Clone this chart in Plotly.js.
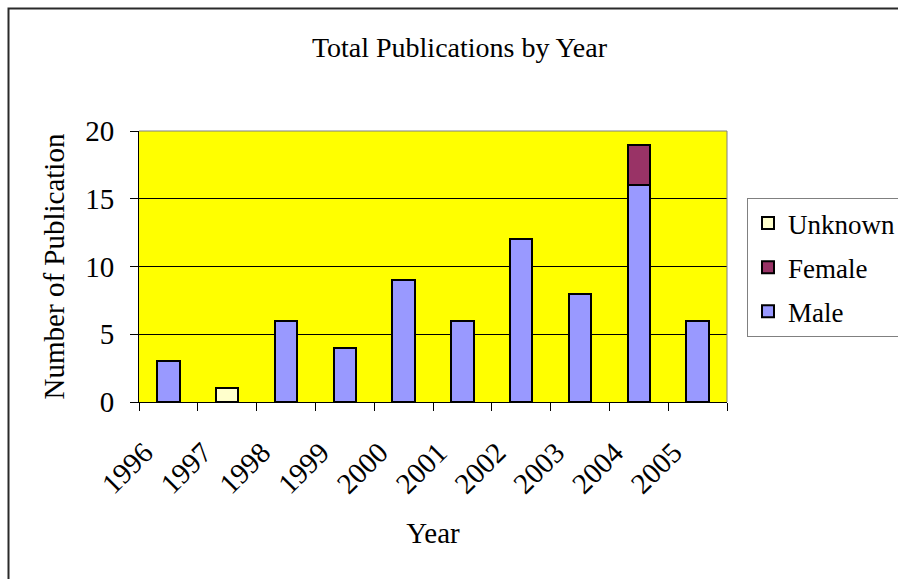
<!DOCTYPE html>
<html>
<head>
<meta charset="utf-8">
<script src="https://cdn.plot.ly/plotly-3.0.1.min.js"></script>
<style>
  html, body { margin: 0; padding: 0; background: #fff; }
  #chart { width: 898px; height: 579px; }
</style>
</head>
<body>
<div id="chart"></div>
<script>
// Publications per year, split by author gender
const years   = ['1996', '1997', '1998', '1999', '2000', '2001', '2002', '2003', '2004', '2005'];
const male    = [3, 0, 6, 4, 9, 6, 12, 8, 16, 6];
const female  = [0, 0, 0, 0, 0, 0, 0, 0, 3, 0];
const unknown = [0, 1, 0, 0, 0, 0, 0, 0, 0, 0];
const yTicks  = [0, 5, 10, 15, 20];

const serif = '"Times New Roman", "Liberation Serif", "DejaVu Serif", serif';
const outline = { color: '#000000', width: 2 };

function series(name, values, color, rank) {
  return {
    type: 'bar', name: name, x: years, y: values,
    legendgroup: name, legendrank: rank,
    marker: { color: color, line: outline },
    hoverinfo: 'x+y+name'
  };
}

const traces = [
  series('Male', male, '#9999FF', 3),
  series('Female', female, '#993366', 2),
  series('Unknown', unknown, '#FFFFCC', 1)
];

// plot area: x 139..727, y 131..402 in page pixels
const L = 139, R = 727, T = 131, B = 402;
const px = v => (v - L) / (R - L);
const py = v => (B - v) / (B - T);

const layout = {
  width: 898, height: 579,
  margin: { l: L, r: 898 - R, t: T, b: 579 - B, autoexpand: false },
  paper_bgcolor: '#ffffff',
  plot_bgcolor: '#FFFF00',
  barmode: 'stack',
  bargap: 0.62,
  font: { family: serif, size: 29, color: '#000000' },
  title: {
    text: 'Total Publications by Year',
    font: { family: serif, size: 28, color: '#000000' },
    x: 0.545, xanchor: 'center', xref: 'paper',
    y: 1 - 47 / 579, yanchor: 'middle'
  },
  xaxis: {
    type: 'category',
    tickson: 'boundaries',
    ticks: 'outside', ticklen: 8, tickcolor: '#000', tickwidth: 1,
    tickangle: -45,
    ticklabelshift: -24,
    ticklabelstandoff: 21,
    showline: true, linecolor: '#000', linewidth: 1,
    showgrid: false, zeroline: false,
    tickfont: { family: serif, size: 29 },
    title: { text: 'Year', font: { family: serif, size: 29 }, standoff: 23 }
  },
  yaxis: {
    range: [0, 20],
    tickvals: yTicks,
    ticks: 'outside', ticklen: 8, tickcolor: '#000', tickwidth: 1,
    ticklabelstandoff: 10,
    showline: true, linecolor: '#000', linewidth: 1,
    showgrid: true, gridcolor: '#000000', gridwidth: 1,
    zeroline: false,
    tickfont: { family: serif, size: 29 },
    title: { text: 'Number of Publication', font: { family: serif, size: 29 }, standoff: 12 }
  },
  legend: {
    x: px(747), xanchor: 'left',
    y: py(198), yanchor: 'top',
    bgcolor: '#ffffff',
    bordercolor: '#808080', borderwidth: 1,
    traceorder: 'grouped',
    tracegroupgap: 6,
    font: { family: serif, size: 27 }
  },
  shapes: [
    // grey top and right edges of the plotting area
    { type: 'line', xref: 'paper', yref: 'paper', x0: 0, x1: 1, y0: 1, y1: 1,
      line: { color: '#808080', width: 1 }, layer: 'above' },
    { type: 'line', xref: 'paper', yref: 'paper', x0: 1, x1: 1, y0: 0, y1: 1,
      line: { color: '#808080', width: 1 }, layer: 'above' },
    // frame around the whole chart
    { type: 'rect', xref: 'paper', yref: 'paper',
      x0: px(8.5), x1: px(960), y0: py(640), y1: py(8.5),
      line: { color: '#2a2a2a', width: 2 }, layer: 'below' }
  ],
  showlegend: true
};

Plotly.newPlot('chart', traces, layout, { displayModeBar: false, staticPlot: true });
</script>
</body>
</html>
